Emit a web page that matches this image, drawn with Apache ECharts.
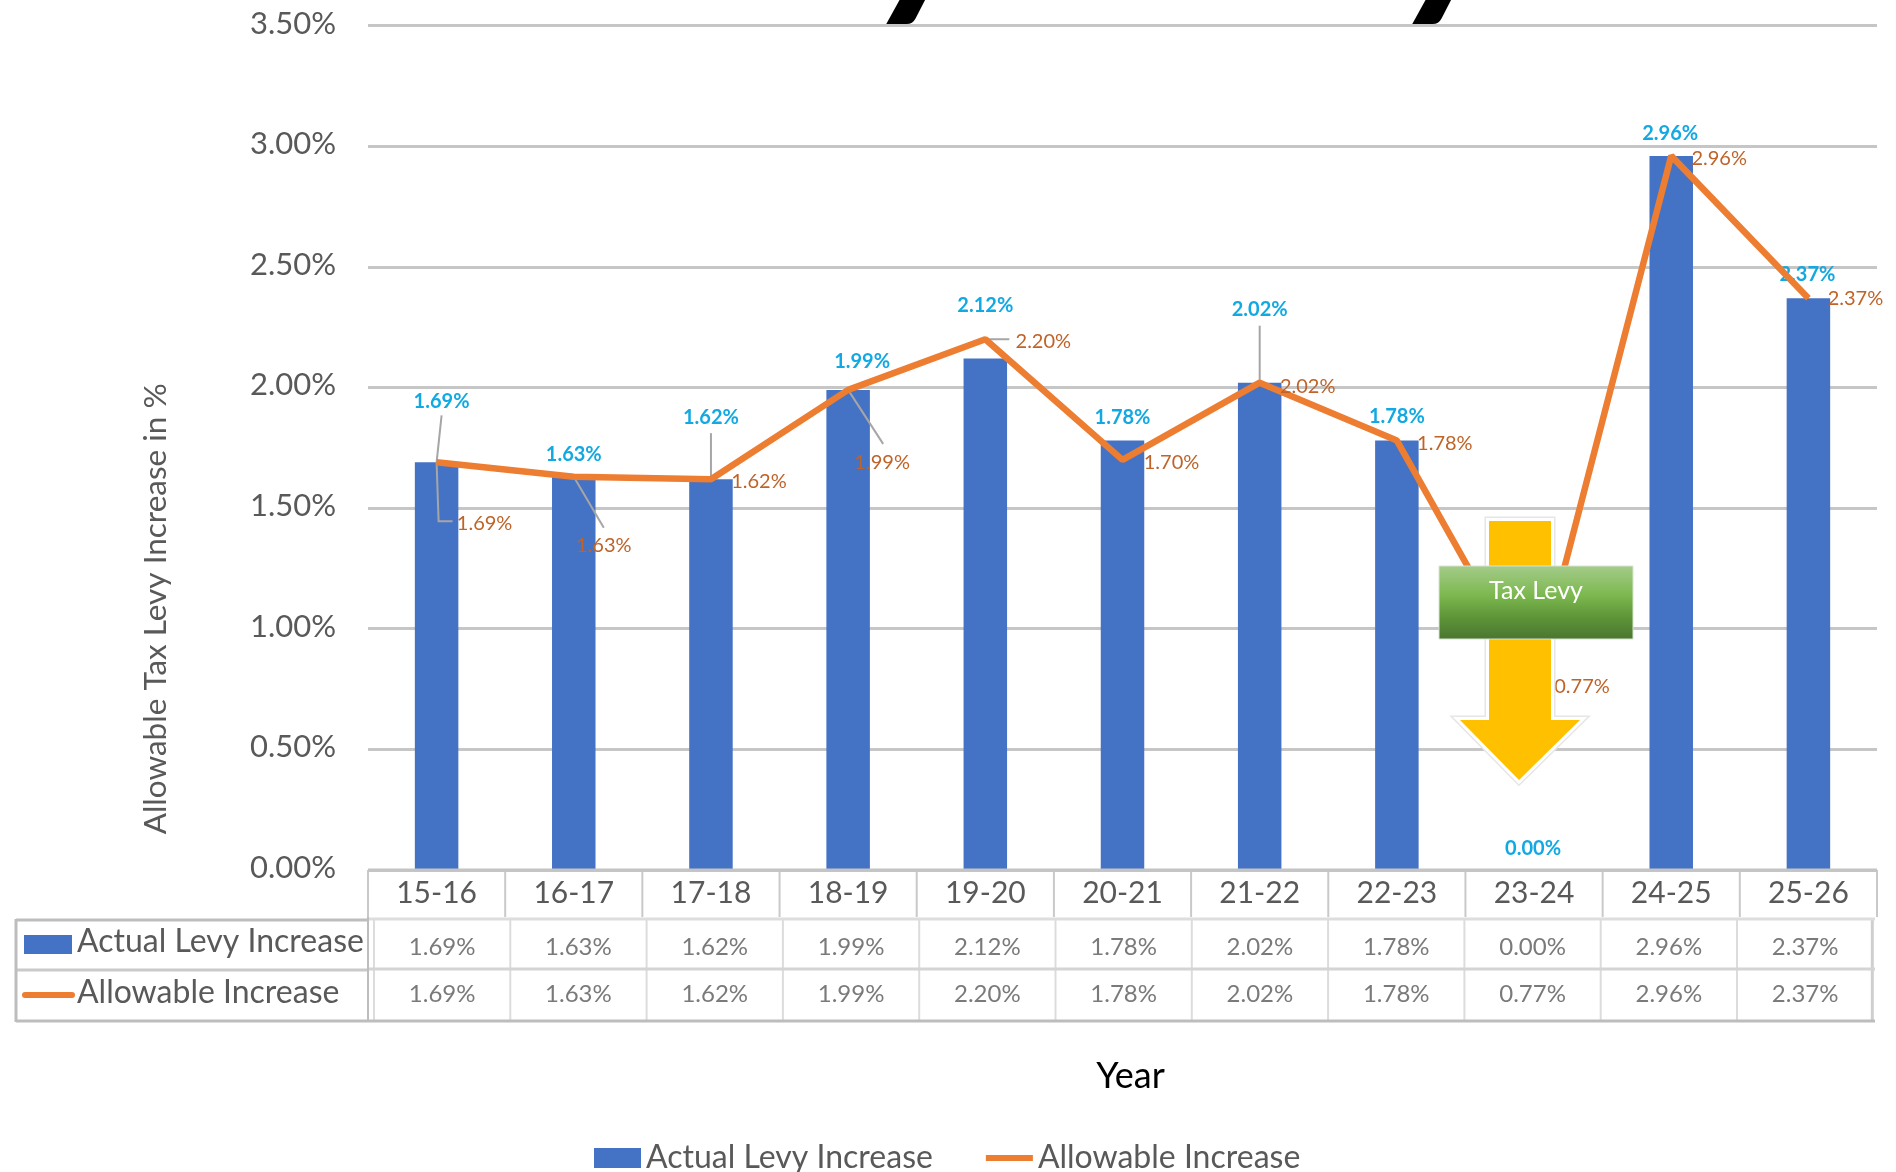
<!DOCTYPE html>
<html>
<head>
<meta charset="utf-8">
<style>html,body{margin:0;padding:0;background:#fff}#c{width:1896px;height:1172px}</style>
<script src="https://cdn.jsdelivr.net/npm/echarts@6/dist/echarts.min.js"></script>
</head>
<body>
<div id="c"></div>
<script>
const categories = ['15-16','16-17','17-18','18-19','19-20','20-21','21-22','22-23','23-24','24-25','25-26'];
const actualLevy = [1.69,1.63,1.62,1.99,2.12,1.78,2.02,1.78,0.00,2.96,2.37];
const allowable  = [1.69,1.63,1.62,1.99,2.20,1.70,2.02,1.78,0.77,2.96,2.37];
const tableActual = ['1.69%','1.63%','1.62%','1.99%','2.12%','1.78%','2.02%','1.78%','0.00%','2.96%','2.37%'];
const tableAllowable = ['1.69%','1.63%','1.62%','1.99%','2.20%','1.78%','2.02%','1.78%','0.77%','2.96%','2.37%'];
const seriesNames = ['Actual Levy Increase','Allowable Increase'];

// label placement, in pixels from the point
const barLabelOffset = [[5,-61],[0,-22],[0,-62],[14,-28],[0,-53],[0,-23],[0,-73],[0,-24],[-1,-21],[-1,-22],[-1,-24]];
const lineLabelOffset = [[48,62],[30,69],[48,3],[34,73],[58,3],[49,3],[48,4],[48,3],[48,3],[48,3],[47,1]];
// leader lines: [category index, value, pixel offsets from that point]
const leaders = [
  [0,1.69,[[5,-47],[0,0]]],
  [0,1.69,[[0,0],[2,59],[16,59]]],
  [1,1.63,[[0,0],[30,51]]],
  [2,1.62,[[0,-46],[0,0]]],
  [3,1.99,[[0,0],[35,54]]],
  [4,2.20,[[0,0],[24,0]]],
  [6,2.02,[[0,-57],[0,0]]]
];

const FONT = 'Lato';
const GREY = '#595959';
const L = 368, R = 1877, T = 25.6, B = 870;
const cellW = (R - L) / categories.length;
const dataL = 374, dataW = 136.3 * categories.length;
const LINE_C = '#c9c9c9';

function vline(x, y1, y2, c, w) { return {type:'line', silent:true, z:5, shape:{x1:x,y1:y1,x2:x,y2:y2}, style:{stroke:c||LINE_C, lineWidth:w||2}}; }
function hline(x1, x2, y, c, w) { return {type:'line', silent:true, z:5, shape:{x1:x1,y1:y,x2:x2,y2:y}, style:{stroke:c||LINE_C, lineWidth:w||2}}; }

const tableLines = [];
categories.forEach((_, i) => {
  tableLines.push(vline(L + i * cellW, B, 917));
  tableLines.push(vline(dataL + i * 136.3, 918, 1022, '#dcdcdc'));
});
tableLines.push(vline(R, B, 917), vline(dataL + dataW - 1, 918, 1022, '#cfcfcf', 3));
tableLines.push(hline(L, R, B, '#c4c4c4', 3), hline(L, R - 2, 919, '#dddddd', 3), hline(L, R - 2, 969, '#d4d4d4', 3), hline(16, R - 2, 1021, '#bdbdbd', 3));
tableLines.push(hline(16, L, 920, '#bdbdbd', 3), hline(16, L, 970, '#c9c9c9', 3));
tableLines.push(vline(16, 919, 1022, '#bdbdbd', 3), vline(L, 917, 1022, '#bdbdbd', 2));

const arrowPts = [[1489,521],[1551,521],[1551,720],[1580,720],[1519,780],[1460,720],[1489,720]];

const graphics = tableLines.concat([
  {type:'rect', z:6, silent:true, shape:{x:24,y:935,width:48,height:19}, style:{fill:'#4472C4'}},
  {type:'line', z:6, silent:true, shape:{x1:25,y1:995,x2:72,y2:995}, style:{stroke:'#ED7D31', lineWidth:6, lineCap:'round'}},
  {type:'text', z:6, silent:true, x:77, y:942, style:{text:seriesNames[0], font:'32px '+FONT, fill:GREY, verticalAlign:'middle'}},
  {type:'text', z:6, silent:true, x:77, y:993, style:{text:seriesNames[1], font:'32px '+FONT, fill:GREY, verticalAlign:'middle'}},
  {type:'polygon', z:100, silent:true, shape:{points:arrowPts}, style:{fill:'#FFC000', stroke:'#e6e6e6', lineWidth:9, lineJoin:'miter'}},
  {type:'polygon', z:101, silent:true, shape:{points:arrowPts}, style:{fill:'#FFC000', stroke:'#ffffff', lineWidth:6, lineJoin:'miter'}},
  {type:'polygon', z:102, silent:true, shape:{points:arrowPts}, style:{fill:'#FFC000'}},
  {type:'rect', z:103, silent:true, shape:{x:1439,y:566,width:194,height:73},
    style:{fill:{type:'linear',x:0,y:0,x2:0,y2:1,colorStops:[{offset:0,color:'#A5CC8B'},{offset:0.4,color:'#7CB84F'},{offset:0.7,color:'#5E9538'},{offset:1,color:'#4A7530'}]}, stroke:'#d8e4d0', lineWidth:1}},
  {type:'text', z:104, silent:true, x:1536, y:591, style:{text:'Tax Levy', font:'25px '+FONT, fill:'#ffffff', align:'center', verticalAlign:'middle'}},
  {type:'text', z:1, silent:true, x:928, y:26, style:{text:'y', font:'italic 900 200px '+FONT, fill:'#000', align:'center', verticalAlign:'bottom'}},
  {type:'text', z:1, silent:true, x:1454, y:26, style:{text:'y', font:'italic 900 200px '+FONT, fill:'#000', align:'center', verticalAlign:'bottom'}}
]);

function dataRowAxis(values, offset) {
  return {type:'category', gridIndex:1, position:'bottom', offset:offset, data:values,
    axisLine:{show:false}, axisTick:{show:false}, splitLine:{show:false},
    axisLabel:{interval:0, color:'#7a7a7a', fontFamily:FONT, fontSize:24, margin:0, verticalAlign:'middle'}};
}

const chart = echarts.init(document.getElementById('c'));
chart.setOption({
  animation:false,
  backgroundColor:'#fff',
  grid:[
    {left:L, top:T, width:R-L, height:B-T},
    {left:dataL, top:B, width:dataW, height:1}
  ],
  legend:{
    left:594, top:1142, padding:0, itemWidth:47, itemHeight:20, itemGap:50,
    textStyle:{fontFamily:FONT, fontSize:32, color:GREY},
    data:[{name:seriesNames[0], icon:'rect'},
          {name:seriesNames[1], itemStyle:{opacity:0}, lineStyle:{color:'#ED7D31', width:6, opacity:1}}]
  },
  xAxis:[
    {type:'category', gridIndex:0, data:categories, name:'Year', nameLocation:'middle', nameGap:188,
     nameTextStyle:{fontFamily:FONT, fontSize:36, color:'#000', padding:[0,0,0,16]},
     axisLine:{show:false}, axisTick:{show:false}, splitLine:{show:false},
     axisLabel:{interval:0, color:GREY, fontFamily:FONT, fontSize:30, margin:23, verticalAlign:'middle'}},
    dataRowAxis(tableActual, 76),
    dataRowAxis(tableAllowable, 123)
  ],
  yAxis:[
    {type:'value', gridIndex:0, min:0, max:3.5, interval:0.5,
     name:'Allowable Tax Levy Increase in %', nameLocation:'middle', nameRotate:90, nameGap:196,
     nameTextStyle:{fontFamily:FONT, fontSize:31.5, color:GREY, padding:[0,322,0,0]},
     axisLine:{show:false}, axisTick:{show:false},
     splitLine:{lineStyle:{color:'#c6c6c6', width:3}},
     axisLabel:{formatter:v => v.toFixed(2)+'%', color:GREY, fontFamily:FONT, fontSize:31, margin:32, verticalAlign:'bottom', lineHeight:4}},
    {type:'value', gridIndex:1, show:false, min:0, max:1}
  ],
  series:[
    {name:seriesNames[0], type:'bar', xAxisIndex:0, yAxisIndex:0, barWidth:43.5, z:2,
     itemStyle:{color:'#4472C4'},
     data:actualLevy.map((v,i)=>({value:v, label:{offset:barLabelOffset[i]}})),
     label:{show:true, position:'top', distance:0, verticalAlign:'middle',
       formatter:p=>p.value.toFixed(2)+'%', fontFamily:FONT, fontWeight:'bold', fontSize:20, color:'#12A9E3'}},
    {name:'leaders', type:'custom', xAxisIndex:0, yAxisIndex:0, z:3, silent:true,
     data:leaders.map((l,i)=>[l[0],l[1],i]),
     renderItem:(params, api)=>{
       const o = api.coord([api.value(0), api.value(1)]);
       const pts = leaders[api.value(2)][2].map(d=>[o[0]+d[0], o[1]+d[1]]);
       return {type:'polyline', shape:{points:pts}, style:{stroke:'#a6a6a6', lineWidth:2, fill:null}};
     }},
    {name:seriesNames[1], type:'line', xAxisIndex:0, yAxisIndex:0, z:4,
     symbol:'circle', symbolSize:1, showSymbol:true,
     lineStyle:{color:'#ED7D31', width:6.5}, itemStyle:{color:'#ED7D31'},
     data:allowable.map((v,i)=>({value:v, label:{offset:lineLabelOffset[i]}})),
     label:{show:true, position:'top', distance:0, verticalAlign:'middle',
       formatter:p=>p.value.toFixed(2)+'%', fontFamily:FONT, fontSize:20, color:'#BF6328'}}
  ],
  graphic:graphics
});
</script>
</body>
</html>
